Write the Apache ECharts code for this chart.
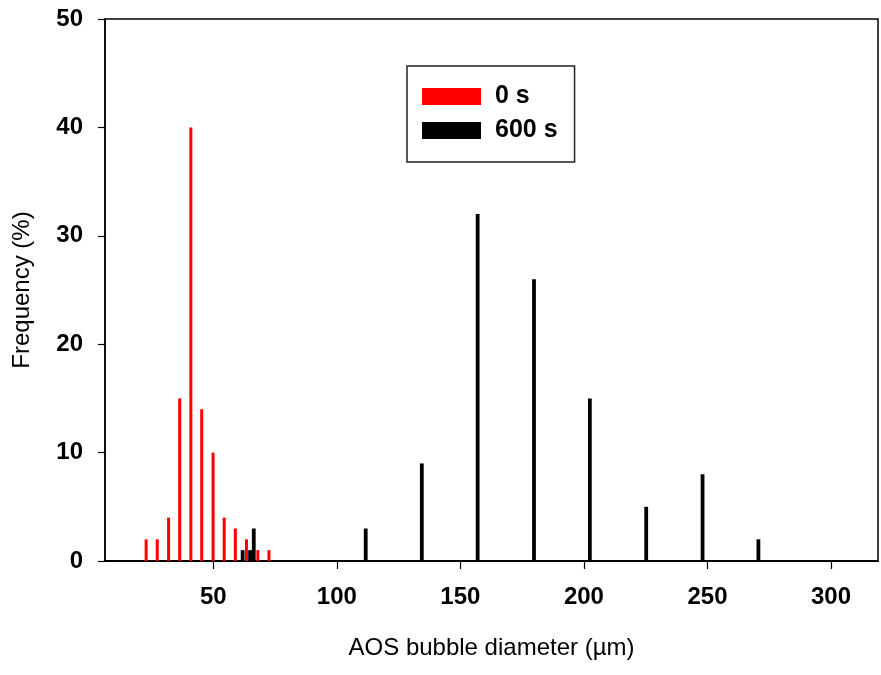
<!DOCTYPE html>
<html>
<head>
<meta charset="utf-8">
<script src="https://cdn.jsdelivr.net/npm/echarts@6/dist/echarts.min.js"></script>
<style>html,body{margin:0;padding:0;background:#fff;}#c{width:881px;height:675px;}</style>
</head>
<body>
<div id="c"></div>
<script>
// Diameter (µm) and frequency (%) for each distribution
const red0sX = [23.0, 27.5, 32.1, 36.6, 41.1, 45.5, 50.1, 54.6, 59.1, 63.6, 68.2, 72.7];
const red0sY = [2, 2, 4, 15, 40, 14, 10, 4, 3, 2, 1, 1];
const black600sX = [61.9, 64.9, 66.4, 111.7, 134.4, 157.0, 179.8, 202.4, 225.2, 248.0, 270.6];
const black600sY = [1, 1, 3, 3, 9, 32, 26, 15, 5, 8, 2];
const xTicks = [50, 100, 150, 200, 250, 300];
const yTicks = [0, 10, 20, 30, 40, 50];
const seriesNames = ['0 s', '600 s'];

const FONT = 'Arial, "Liberation Sans", sans-serif';
const pair = (xs, ys) => xs.map((x, i) => [x, ys[i]]);

const chart = echarts.init(document.getElementById('c'), null, {renderer: 'canvas'});
chart.setOption({
  animation: false,
  backgroundColor: '#fff',
  grid: {left: 105, right: 3, top: 19, bottom: 114, show: true, borderColor: '#000', borderWidth: 1.5, containLabel: false},
  legend: {
    data: seriesNames,
    orient: 'vertical',
    left: 407, top: 66,
    icon: 'rect',
    itemWidth: 59, itemHeight: 17, itemGap: 9,
    padding: [18, 17, 19, 15],
    borderColor: '#222', borderWidth: 1.5,
    textStyle: {fontFamily: FONT, fontSize: 25, fontWeight: 'bold', color: '#000', padding: [0, 0, 0, 9]}
  },
  xAxis: {
    type: 'value', min: 6.2, max: 319,
    name: 'AOS bubble diameter (µm)', nameLocation: 'middle', nameGap: 75,
    nameTextStyle: {fontFamily: FONT, fontSize: 24, color: '#000'},
    axisLine: {show: true, lineStyle: {color: '#000', width: 2}},
    axisTick: {show: true, inside: false, length: 8, customValues: xTicks, lineStyle: {color: '#000', width: 1.2}},
    axisLabel: {customValues: xTicks, margin: 24, fontFamily: FONT, fontSize: 24, fontWeight: 'bold', color: '#000'},
    splitLine: {show: false}
  },
  yAxis: {
    type: 'value', min: 0, max: 50, interval: 10,
    name: 'Frequency (%)', nameLocation: 'middle', nameGap: 71,
    nameTextStyle: {fontFamily: FONT, fontSize: 24, color: '#000'},
    axisLine: {show: true, lineStyle: {color: '#000', width: 1.5}},
    axisTick: {show: true, inside: false, length: 7, customValues: yTicks, lineStyle: {color: '#000', width: 1.2}},
    axisLabel: {customValues: yTicks, margin: 22, fontFamily: FONT, fontSize: 24, fontWeight: 'bold', color: '#000'},
    splitLine: {show: false}
  },
  series: [
    {name: seriesNames[0], type: 'bar', data: pair(red0sX, red0sY), barWidth: 3, barGap: '-100%', itemStyle: {color: '#ff0000'}},
    {name: seriesNames[1], type: 'bar', data: pair(black600sX, black600sY), barWidth: 3.8, barGap: '-100%', itemStyle: {color: '#000'}}
  ]
});
</script>
</body>
</html>
